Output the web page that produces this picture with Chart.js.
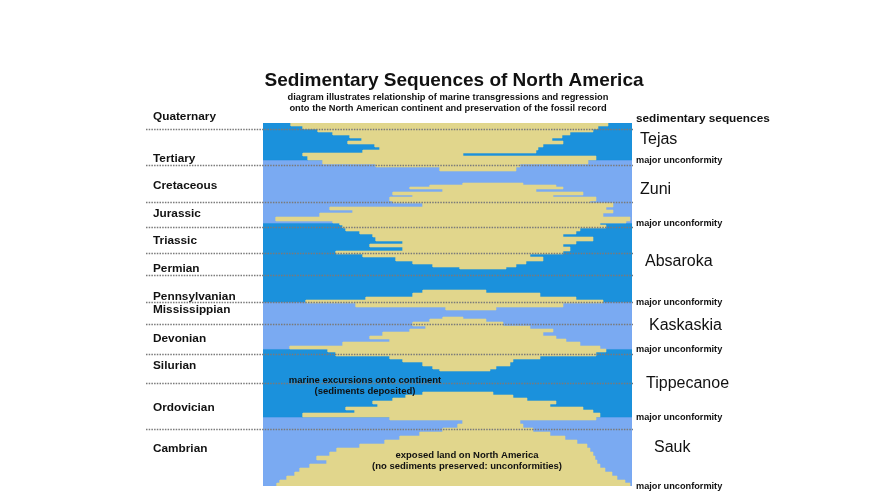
<!DOCTYPE html>
<html><head><meta charset="utf-8">
<script src="https://cdn.jsdelivr.net/npm/chart.js@4/dist/chart.umd.min.js"></script>
<style>html,body{margin:0;padding:0;background:#fff;}#wrap{width:873px;height:495px;}</style>
</head><body><div id="wrap"><canvas id="c" width="873" height="495"></canvas></div>
<script>
// ---------- DATA (x: relative width across continent 0-369, y: relative position 0 top -> 363 bottom) ----------
const sequenceNames = ['Tejas', 'Zuni', 'Absaroka', 'Kaskaskia', 'Tippecanoe', 'Sauk'];
const sequenceTop = [0, 37, 100, 179, 226, 294];
const sequenceBottom = [37, 100, 179, 226, 294, 363];
const sequenceShade = ['dark', 'light', 'dark', 'light', 'dark', 'light'];
const sequenceLabelY = [15, 65, 137, 201, 259, 323];
const sequenceLabelDx = [4, 4, 9, 13, 10, 18];

const periodNames = ['Quaternary', 'Tertiary', 'Cretaceous', 'Jurassic', 'Triassic', 'Permian',
  'Pennsylvanian', 'Mississippian', 'Devonian', 'Silurian', 'Ordovician', 'Cambrian'];
const periodLabelY = [-8, 34, 61, 89, 116, 144, 172, 185, 214, 241, 283, 324];
const periodBoundaries = [6, 42, 79, 104, 130, 152, 179, 201, 231, 260, 306];

// exposed land (each row: y edges, left edge, right edge)
const tejasEdges = [0, 3, 6, 9, 12, 15, 18, 21, 24, 27, 30, 33, 37, 41, 44, 48];
const tejasLeft  = [28, 40, 55, 70, 87, 99, 85, 112, 117, 100, 40, 45, 60, 113, 177];
const tejasRight = [345, 335, 330, 307, 299, 289, 300, 280, 275, 273, 200, 333, 325, 257, 253];

const zuniEdges = [60, 62, 64, 66, 69, 72, 74, 78, 80, 84, 87, 90, 94, 98, 100, 102, 105, 108, 111, 114, 118, 121, 124, 128, 131, 134, 138, 141, 144, 146];
const zuniLeft  = [200, 167, 147, 180, 130, 150, 127, 130, 160, 67, 90, 57, 13, 70, 77, 80, 83, 97, 110, 113, 140, 107, 140, 73, 100, 133, 150, 170, 197];
const zuniRight = [260, 293, 300, 273, 320, 290, 333, 327, 350, 343, 350, 340, 367, 363, 337, 343, 317, 313, 300, 330, 313, 300, 307, 300, 267, 280, 263, 253, 243];

const absarokaEdges = [167, 170, 174, 177, 180, 184, 187];
const absarokaLeft  = [160, 150, 103, 43, 93, 183];
const absarokaRight = [223, 277, 313, 340, 300, 233];

const kaskaskiaEdges = [194, 196, 199, 203, 206, 209, 213, 216, 219, 223, 226, 229, 233, 236, 239, 243, 246, 248];
const kaskaskiaLeft  = [180, 167, 150, 163, 147, 120, 107, 127, 80, 27, 65, 73, 127, 140, 160, 170, 177];
const kaskaskiaRight = [200, 223, 240, 267, 290, 280, 293, 303, 317, 337, 343, 333, 277, 250, 247, 233, 227];

const saukEdges = [269, 272, 275, 278, 281, 284, 287, 290, 294, 297, 301, 305, 309, 313, 317, 321, 325, 329, 333, 337, 341, 345, 349, 353, 357, 360, 363];
const saukLeft  = [160, 143, 130, 110, 115, 83, 92, 40, 127, 200, 195, 180, 157, 137, 122, 97, 74, 67, 54, 64, 47, 37, 32, 24, 17, 14];
const saukRight = [230, 250, 264, 293, 287, 320, 330, 337, 333, 257, 260, 270, 287, 302, 314, 324, 327, 330, 332, 334, 337, 342, 349, 354, 362, 367];

const annotations = [
  { x: 102, y: 256, text: 'marine excursions onto continent' },
  { x: 102, y: 267, text: '(sediments deposited)' },
  { x: 204, y: 331, text: 'exposed land on North America' },
  { x: 204, y: 342, text: '(no sediments preserved: unconformities)' }
];

// ---------- STYLE ----------
const DARK = '#1b91dc', LIGHT = '#7aaaf2', LAND = '#e1d68c';
const FONT = '"Liberation Sans", Arial, sans-serif';
const TEXT_DY = 1.5;

function stepPolygon(edges, left, right) {
  const pts = [];
  for (let i = 0; i < left.length; i++) {
    pts.push({ x: left[i], y: edges[i] }, { x: left[i], y: edges[i + 1] });
  }
  for (let i = right.length - 1; i >= 0; i--) {
    pts.push({ x: right[i], y: edges[i + 1] }, { x: right[i], y: edges[i] });
  }
  pts.push({ x: left[0], y: edges[0] });
  return pts;
}
function shapeDataset(points, color) {
  return { data: points, showLine: true, fill: 'shape', backgroundColor: color, borderColor: color,
           borderWidth: 0.6, pointRadius: 0, tension: 0 };
}

const landSets = [
  [tejasEdges, tejasLeft, tejasRight], [zuniEdges, zuniLeft, zuniRight],
  [absarokaEdges, absarokaLeft, absarokaRight], [kaskaskiaEdges, kaskaskiaLeft, kaskaskiaRight],
  [saukEdges, saukLeft, saukRight]
].map(([e, l, r]) => shapeDataset(stepPolygon(e, l, r), LAND));

const seaSets = sequenceNames.map((n, i) => {
  const t = sequenceTop[i], b = sequenceBottom[i];
  const c = sequenceShade[i] === 'dark' ? DARK : LIGHT;
  return shapeDataset([{ x: 0, y: t }, { x: 369, y: t }, { x: 369, y: b }, { x: 0, y: b }, { x: 0, y: t }], c);
});

const overlay = {
  id: 'overlay',
  afterDatasetsDraw(chart) {
    const ctx = chart.ctx, ys = chart.scales.y, xs = chart.scales.x, a = chart.chartArea;
    ctx.save();
    ctx.strokeStyle = '#7a7a7a'; ctx.lineWidth = 1.3; ctx.setLineDash([1.5, 1.2]);
    periodBoundaries.forEach(v => {
      const y = Math.round(ys.getPixelForValue(v)) + 0.5;
      ctx.beginPath(); ctx.moveTo(146, y); ctx.lineTo(a.right + 1, y); ctx.stroke();
    });
    ctx.setLineDash([]);
    ctx.fillStyle = '#111';
    ctx.textBaseline = 'middle';
    ctx.textAlign = 'center';
    ctx.font = 'bold 9.5px ' + FONT;
    annotations.forEach(t => ctx.fillText(t.text, xs.getPixelForValue(t.x), ys.getPixelForValue(t.y) + TEXT_DY));
    ctx.restore();
  },
  afterDraw(chart) {
    const ctx = chart.ctx, ys = chart.scales.y, a = chart.chartArea;
    ctx.save();
    ctx.fillStyle = '#111';
    ctx.textBaseline = 'middle';
    ctx.textAlign = 'center';
    ctx.font = 'bold 19px ' + FONT;
    ctx.fillText('Sedimentary Sequences of North America', 454, 79 + TEXT_DY);
    ctx.font = 'bold 9.3px ' + FONT;
    ctx.fillText('diagram illustrates relationship of marine transgressions and regression', 448, 96 + TEXT_DY);
    ctx.fillText('onto the North American continent and preservation of the fossil record', 448, 107 + TEXT_DY);
    ctx.textAlign = 'left';
    ctx.font = 'bold 11.8px ' + FONT;
    periodNames.forEach((p, i) => ctx.fillText(p, 153, ys.getPixelForValue(periodLabelY[i]) + TEXT_DY));
    ctx.fillText('sedimentary sequences', a.right + 4, ys.getPixelForValue(-6) + TEXT_DY);
    sequenceNames.forEach((s, i) => {
      ctx.font = '16px ' + FONT;
      ctx.fillText(s, a.right + 4 + sequenceLabelDx[i], ys.getPixelForValue(sequenceLabelY[i]) + TEXT_DY);
      ctx.font = 'bold 9.2px ' + FONT;
      ctx.fillText('major unconformity', a.right + 4, ys.getPixelForValue(sequenceBottom[i] - 1.5) + TEXT_DY);
    });
    ctx.restore();
  }
};

new Chart(document.getElementById('c'), {
  type: 'scatter',
  data: { datasets: landSets.concat(seaSets) },
  options: {
    responsive: false, animation: false, devicePixelRatio: 1,
    layout: { padding: { left: 263, right: 241, top: 123, bottom: 9 } },
    scales: {
      x: { type: 'linear', min: 0, max: 369, display: false },
      y: { type: 'linear', min: 0, max: 363, reverse: true, display: false }
    },
    plugins: { legend: { display: false }, tooltip: { enabled: false }, title: { display: false } },
    elements: { line: { tension: 0 } }
  },
  plugins: [overlay]
});
</script></body></html>
